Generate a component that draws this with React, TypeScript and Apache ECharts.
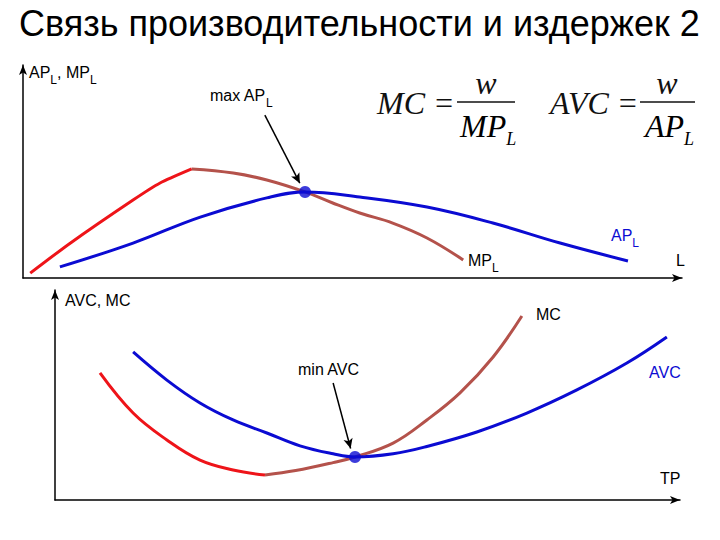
import React, { useEffect, useRef } from "react";
import * as echarts from "echarts";

// Top panel: L on x, AP_L / MP_L on y
const mpRise: number[][] = [[0.11, 0.23], [0.7, 1.6], [1.67, 3.66], [2.08, 4.46], [2.56, 5.12]];
const mpFall: number[][] = [[2.56, 5.12], [3.19, 4.93], [3.7, 4.6], [4.28, 4.04], [4.7, 3.52], [5.11, 3.05], [5.61, 2.58], [6.13, 1.88], [6.68, 0.85]];
const apCurve: number[][] = [[0.56, 0.52], [1.67, 1.64], [2.69, 2.86], [3.7, 3.76], [4.28, 4.04], [5.11, 3.8], [6.13, 3.33], [7.13, 2.58], [8.15, 1.64], [9.18, 0.8]];
const maxAP: number[] = [4.28, 4.04];
const maxAPArrow: number[][] = [[3.67, 7.65], [4.2, 4.45]];

// Bottom panel: TP on x, AVC / MC on y
const mcFall: number[][] = [[0.72, 6.05], [1.25, 4.14], [1.79, 2.86], [2.32, 1.9], [2.85, 1.43], [3.36, 1.19]];
const mcRise: number[][] = [[3.36, 1.19], [3.85, 1.4], [4.45, 1.78], [4.8, 2.05], [5.41, 2.71], [5.95, 3.81], [6.48, 5.1], [7.01, 6.81], [7.47, 8.76]];
const avcCurve: number[][] = [[1.25, 7.05], [1.79, 5.71], [2.32, 4.62], [2.85, 3.81], [3.39, 3.19], [3.92, 2.58], [4.45, 2.2], [4.8, 2.05], [5.41, 2.2], [5.95, 2.55], [6.75, 3.24], [7.55, 4.14], [8.35, 5.24], [9.15, 6.52], [9.79, 7.76]];
const minAVC: number[] = [4.8, 2.05];
const minAVCArrow: number[][] = [[4.45, 5.57], [4.73, 2.45]];

const RED = "#ee1419";
const BROWN = "#b4524b";
const BLUE = "#0b0bd2";
const SANS = "Liberation Sans, Arial, sans-serif";
const SERIF = "Liberation Serif, Times New Roman, serif";

const axisStyle = (show: boolean) => ({
  type: "value" as const,
  min: 0,
  max: 10,
  axisLine: { show, symbol: ["none", "arrow"], symbolSize: [6, 10], lineStyle: { color: "#000", width: 1.5 } },
  axisTick: { show: false },
  axisLabel: { show: false },
  splitLine: { show: false },
});

const subRich = (size: number, color: string) => ({
  a: { fontSize: size, fontFamily: SANS, color, lineHeight: size + 4, verticalAlign: "top" as const },
  s: { fontSize: size - 4, fontFamily: SANS, color, lineHeight: size - 4, verticalAlign: "top" as const, padding: [10, 0, 0, 0] },
});

const label = (x: number, y: number, text: string, color = "#000", size = 16) => ({
  type: "text" as const,
  x,
  y,
  style: { text, rich: subRich(size, color), fill: color, font: `${size}px ${SANS}` },
});

const formulaFont = `italic 32px ${SERIF}`;
const formulaRich = {
  a: { fontSize: 32, fontFamily: SERIF, fontStyle: "italic" as const, color: "#111", lineHeight: 36, verticalAlign: "top" as const },
  s: { fontSize: 18, fontFamily: SERIF, fontStyle: "italic" as const, color: "#111", lineHeight: 18, verticalAlign: "top" as const, padding: [20, 0, 0, 0] },
};

export default function App() {
  const ref = useRef<HTMLDivElement>(null);
  useEffect(() => {
    if (!ref.current) return;
    const chart = echarts.init(ref.current, null, { renderer: "svg" });
    const line = (data: number[][], color: string, xi: number, smooth = 0.4) => ({
      type: "line" as const,
      xAxisIndex: xi,
      yAxisIndex: xi,
      data,
      smooth,
      symbol: "none",
      lineStyle: { color, width: 3 },
      z: 3,
    });
    const dot = (pt: number[], arrow: number[][], xi: number) => ({
      type: "scatter" as const,
      xAxisIndex: xi,
      yAxisIndex: xi,
      data: [pt],
      symbolSize: 12,
      itemStyle: { color: BLUE },
      z: 5,
      markLine: {
        silent: true,
        symbol: ["none", "arrow"],
        symbolSize: [7, 10],
        label: { show: false },
        lineStyle: { color: "#000", width: 1.5, type: "solid" },
        data: [[{ coord: arrow[0] }, { coord: arrow[1] }]],
      },
    });
    chart.setOption({
      animation: false,
      backgroundColor: "#fff",
      grid: [
        { left: 23, right: 38, top: 65, height: 213 },
        { left: 55, right: 40, top: 290, height: 210 },
      ],
      xAxis: [{ ...axisStyle(true), gridIndex: 0 }, { ...axisStyle(true), gridIndex: 1 }],
      yAxis: [{ ...axisStyle(true), gridIndex: 0 }, { ...axisStyle(true), gridIndex: 1 }],
      series: [
        line(mpRise, RED, 0, 0.2),
        line(mpFall, BROWN, 0),
        line(apCurve, BLUE, 0),
        dot(maxAP, maxAPArrow, 0),
        line(mcFall, RED, 1),
        line(mcRise, BROWN, 1),
        line(avcCurve, BLUE, 1),
        dot(minAVC, minAVCArrow, 1),
      ],
      graphic: [
        {
          type: "text",
          x: 19,
          y: 23,
          style: { text: "Связь производительности и издержек 2", font: `36px ${SANS}`, fill: "#000", verticalAlign: "middle" },
        },
        label(29, 64, "{a|AP}{s|L}{a|, MP}{s|L}"),
        label(210, 87, "{a|max AP}{s|L}"),
        label(611, 227, "{a|AP}{s|L}", BLUE),
        label(468, 252, "{a|MP}{s|L}"),
        label(676, 252, "{a|L}"),
        label(65, 292, "{a|AVC, MC}"),
        label(298, 361, "{a|min AVC}"),
        label(536, 306, "{a|MC}"),
        label(649, 364, "{a|AVC}", BLUE),
        label(660, 470, "{a|TP}"),
        // formulas
        { type: "text", x: 377, y: 103, style: { text: "MC =", font: formulaFont, fill: "#111", verticalAlign: "middle" } },
        { type: "line", shape: { x1: 457, y1: 102, x2: 515, y2: 102 }, style: { stroke: "#111", lineWidth: 1.5 } },
        { type: "text", x: 486, y: 83, style: { text: "w", font: formulaFont, fill: "#111", align: "center", verticalAlign: "middle" } },
        { type: "text", x: 460, y: 110, style: { text: "{a|MP}{s|L}", rich: formulaRich, font: formulaFont } },
        { type: "text", x: 550, y: 103, style: { text: "AVC =", font: formulaFont, fill: "#111", verticalAlign: "middle" } },
        { type: "line", shape: { x1: 640, y1: 102, x2: 695, y2: 102 }, style: { stroke: "#111", lineWidth: 1.5 } },
        { type: "text", x: 667, y: 83, style: { text: "w", font: formulaFont, fill: "#111", align: "center", verticalAlign: "middle" } },
        { type: "text", x: 645, y: 110, style: { text: "{a|AP}{s|L}", rich: formulaRich, font: formulaFont } },
      ],
    });
    return () => chart.dispose();
  }, []);
  return <div ref={ref} style={{ position: "absolute", left: 0, top: 0, width: 720, height: 540 }} />;
}
